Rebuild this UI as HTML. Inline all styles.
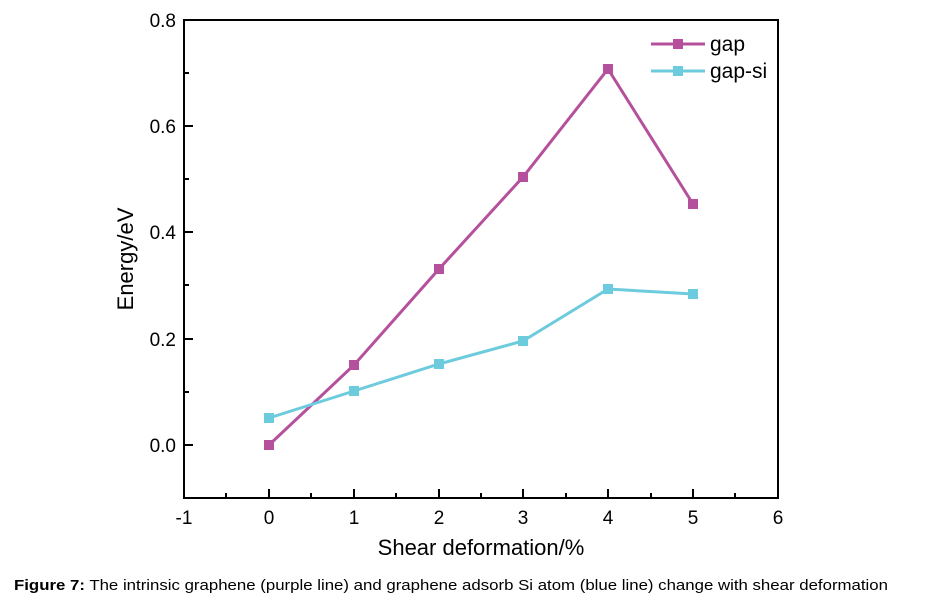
<!DOCTYPE html>
<html><head><meta charset="utf-8"><style>body{margin:0;background:#fff}</style></head><body>
<svg width="925" height="605" xmlns="http://www.w3.org/2000/svg" font-family="Liberation Sans, sans-serif">
<rect x="184" y="20" width="594" height="478" fill="none" stroke="#000" stroke-width="2"/>
<g stroke="#000" stroke-width="2">
<line x1="269" y1="498" x2="269" y2="489"/><line x1="354" y1="498" x2="354" y2="489"/><line x1="439" y1="498" x2="439" y2="489"/><line x1="523" y1="498" x2="523" y2="489"/><line x1="608" y1="498" x2="608" y2="489"/><line x1="693" y1="498" x2="693" y2="489"/>
<line x1="226" y1="498" x2="226" y2="493"/><line x1="311" y1="498" x2="311" y2="493"/><line x1="396" y1="498" x2="396" y2="493"/><line x1="481" y1="498" x2="481" y2="493"/><line x1="566" y1="498" x2="566" y2="493"/><line x1="651" y1="498" x2="651" y2="493"/><line x1="735" y1="498" x2="735" y2="493"/>
<line x1="184" y1="445" x2="193" y2="445"/><line x1="184" y1="339" x2="193" y2="339"/><line x1="184" y1="232" x2="193" y2="232"/><line x1="184" y1="126" x2="193" y2="126"/>
<line x1="184" y1="392" x2="189" y2="392"/><line x1="184" y1="285" x2="189" y2="285"/><line x1="184" y1="179" x2="189" y2="179"/><line x1="184" y1="73" x2="189" y2="73"/>
</g>
<g font-size="19" text-anchor="middle" fill="#000">
<text x="184" y="524">-1</text><text x="269" y="524">0</text><text x="354" y="524">1</text><text x="439" y="524">2</text><text x="523" y="524">3</text><text x="608" y="524">4</text><text x="693" y="524">5</text><text x="778" y="524">6</text>
</g>
<g font-size="19" text-anchor="end" fill="#000">
<text x="176" y="452">0.0</text><text x="176" y="346">0.2</text><text x="176" y="239">0.4</text><text x="176" y="133">0.6</text><text x="176" y="27">0.8</text>
</g>
<text x="481" y="555" font-size="22" text-anchor="middle">Shear deformation/%</text>
<text transform="translate(133,259) rotate(-90)" font-size="22" text-anchor="middle">Energy/eV</text>
<polyline points="269,445 354,365 439,269 523,177 608,69 693,204" fill="none" stroke="#b5519c" stroke-width="3"/>
<polyline points="269,418 354,391 439,364 523,341 608,289 693,294" fill="none" stroke="#6ccbdc" stroke-width="3"/>
<g fill="#b5519c"><rect x="264" y="440" width="10" height="10"/><rect x="349" y="360" width="10" height="10"/><rect x="434" y="264" width="10" height="10"/><rect x="518" y="172" width="10" height="10"/><rect x="603" y="64" width="10" height="10"/><rect x="688" y="199" width="10" height="10"/></g>
<g fill="#6ccbdc"><rect x="264" y="413" width="10" height="10"/><rect x="349" y="386" width="10" height="10"/><rect x="434" y="359" width="10" height="10"/><rect x="518" y="336" width="10" height="10"/><rect x="603" y="284" width="10" height="10"/><rect x="688" y="289" width="10" height="10"/></g>
<line x1="651" y1="44" x2="705" y2="44" stroke="#b5519c" stroke-width="3"/><rect x="673" y="39" width="10" height="10" fill="#b5519c"/>
<line x1="651" y1="71" x2="705" y2="71" stroke="#6ccbdc" stroke-width="3"/><rect x="673" y="66" width="10" height="10" fill="#6ccbdc"/>
<text x="710" y="51" font-size="21">gap</text><text x="710" y="78" font-size="21">gap-si</text>
<text x="14" y="590" font-size="15" textLength="874" lengthAdjust="spacingAndGlyphs"><tspan font-weight="bold">Figure 7:</tspan> The intrinsic graphene (purple line) and graphene adsorb Si atom (blue line) change with shear deformation</text>
</svg>
</body></html>
